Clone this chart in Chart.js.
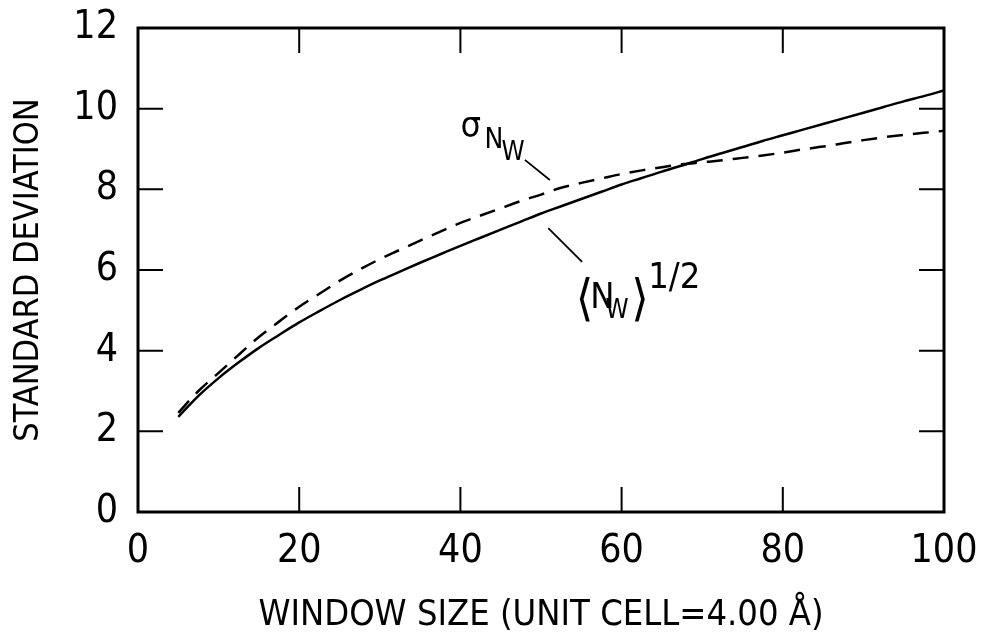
<!DOCTYPE html>
<html>
<head>
<meta charset="utf-8">
<script src="https://cdn.jsdelivr.net/npm/chart.js@4.4.1/dist/chart.umd.min.js"></script>
<style>
  html, body { margin: 0; padding: 0; background: #fff; }
  #wrap { width: 981px; height: 636px; position: relative; }
</style>
</head>
<body>
<div id="wrap"><canvas id="c" width="981" height="636"></canvas></div>
<script>
// ---- data ----
const windowSizes = [5, 7.5, 10, 12.5, 15, 17.5, 20, 22.5, 25, 27.5, 30, 32.5, 35, 37.5, 40, 42.5, 45, 47.5, 50, 52.5, 55, 57.5, 60, 62.5, 65, 67.5, 70, 72.5, 75, 77.5, 80, 82.5, 85, 87.5, 90, 92.5, 95, 97.5, 100];
const sqrtMeanN   = [2.36, 2.88, 3.32, 3.71, 4.07, 4.39, 4.70, 4.98, 5.25, 5.50, 5.74, 5.96, 6.18, 6.39, 6.60, 6.80, 7.00, 7.20, 7.40, 7.58, 7.76, 7.94, 8.12, 8.28, 8.44, 8.59, 8.75, 8.90, 9.05, 9.20, 9.34, 9.48, 9.62, 9.76, 9.90, 10.04, 10.18, 10.31, 10.45];
const sigmaN      = [2.46, 3.00, 3.45, 3.90, 4.34, 4.72, 5.09, 5.41, 5.73, 6.01, 6.27, 6.50, 6.73, 6.95, 7.17, 7.35, 7.53, 7.71, 7.87, 8.04, 8.16, 8.27, 8.38, 8.47, 8.55, 8.62, 8.67, 8.72, 8.78, 8.84, 8.91, 8.99, 9.06, 9.14, 9.22, 9.29, 9.35, 9.40, 9.45];
const xTicks = [0, 20, 40, 60, 80, 100];
const yTicks = [0, 2, 4, 6, 8, 10, 12];
const xTitle = 'WINDOW SIZE (UNIT CELL=4.00 Å)';
const yTitle = 'STANDARD DEVIATION';

const FONT = '"Liberation Sans Narrow", "DejaVu Sans Condensed", "Liberation Sans", sans-serif';
const BRK = '"DejaVu Sans Condensed", "DejaVu Sans", sans-serif';

const toPts = (ys) => windowSizes.map((x, i) => ({ x: x, y: ys[i] }));

// frame, inward ticks on all sides, and curve labels
const framePlugin = {
  id: 'frame',
  afterDatasetsDraw(chart) {
    const { ctx, chartArea: a, scales } = chart;
    const xs = scales.x, ys = scales.y;
    const TL = 25;
    ctx.save();
    ctx.strokeStyle = '#000';
    ctx.lineWidth = 2;
    ctx.beginPath();
    xTicks.forEach(v => {
      const px = xs.getPixelForValue(v);
      ctx.moveTo(px, a.bottom); ctx.lineTo(px, a.bottom - TL);
      ctx.moveTo(px, a.top); ctx.lineTo(px, a.top + TL);
    });
    yTicks.forEach(v => {
      const py = ys.getPixelForValue(v);
      ctx.moveTo(a.left, py); ctx.lineTo(a.left + TL, py);
      ctx.moveTo(a.right, py); ctx.lineTo(a.right - TL, py);
    });
    ctx.stroke();
    ctx.lineWidth = 3;
    ctx.strokeRect(a.left, a.top, a.right - a.left, a.bottom - a.top);

    // leader lines
    const P = (x, y) => [xs.getPixelForValue(x), ys.getPixelForValue(y)];
    ctx.lineWidth = 1.8;
    ctx.beginPath();
    let p = P(48.0, 8.73); ctx.moveTo(p[0], p[1]);
    p = P(51.1, 8.23); ctx.lineTo(p[0], p[1]);
    p = P(50.9, 7.04); ctx.moveTo(p[0], p[1]);
    p = P(55.1, 6.20); ctx.lineTo(p[0], p[1]);
    ctx.stroke();

    // labels
    ctx.fillStyle = '#000';
    ctx.textBaseline = 'alphabetic';
    ctx.textAlign = 'left';
    const txt = (s, x, y, size, fam) => {
      const q = P(x, y);
      ctx.font = size + 'px ' + (fam || FONT);
      ctx.fillText(s, q[0], q[1]);
    };
    txt('σ', 40.0, 9.30, 36);
    txt('N', 43.0, 9.03, 28);
    txt('W', 45.1, 8.73, 26);
    txt('⟨', 54.3, 4.88, 50, BRK);
    txt('N', 56.1, 5.07, 36);
    txt('W', 58.0, 4.80, 26);
    txt('⟩', 61.2, 4.88, 50, BRK);
    txt('1/2', 63.3, 5.55, 36);
    ctx.restore();
  }
};

new Chart(document.getElementById('c'), {
  type: 'line',
  data: {
    datasets: [
      {
        label: '⟨N_W⟩^1/2',
        data: toPts(sqrtMeanN),
        borderColor: '#000',
        borderWidth: 2.5,
        pointRadius: 0,
        cubicInterpolationMode: 'monotone',
        fill: false
      },
      {
        label: 'σ_N_W',
        data: toPts(sigmaN),
        borderColor: '#000',
        borderWidth: 2.5,
        borderDash: [16, 10],
        pointRadius: 0,
        cubicInterpolationMode: 'monotone',
        fill: false
      }
    ]
  },
  options: {
    responsive: false,
    animation: false,
    layout: { padding: { top: 28, right: 37, left: 0, bottom: 0 } },
    plugins: { legend: { display: false }, tooltip: { enabled: false } },
    scales: {
      x: {
        type: 'linear',
        min: 0, max: 100,
        afterFit: (s) => { s.height = 124; s.paddingLeft = 0; s.paddingRight = 0; },
        afterBuildTicks: (s) => { s.ticks = xTicks.map(v => ({ value: v })); },
        grid: { display: false, drawTicks: false },
        border: { display: false },
        ticks: { color: '#000', padding: 16, maxRotation: 0, font: { family: FONT, size: 39 } },
        title: { display: true, text: xTitle, color: '#000', padding: { top: 0, bottom: 0 }, font: { family: FONT, size: 36, lineHeight: 1.15 } }
      },
      y: {
        type: 'linear',
        min: 0, max: 12,
        afterFit: (s) => { s.width = 138; s.paddingTop = 0; s.paddingBottom = 0; },
        afterBuildTicks: (s) => { s.ticks = yTicks.map(v => ({ value: v })); },
        grid: { display: false, drawTicks: false },
        border: { display: false },
        ticks: { color: '#000', padding: 20, font: { family: FONT, size: 39 } },
        title: { display: true, text: yTitle, color: '#000', padding: { top: 9, bottom: 0 }, font: { family: FONT, size: 34, lineHeight: 1.2 } }
      }
    }
  },
  plugins: [framePlugin]
});
</script>
</body>
</html>
